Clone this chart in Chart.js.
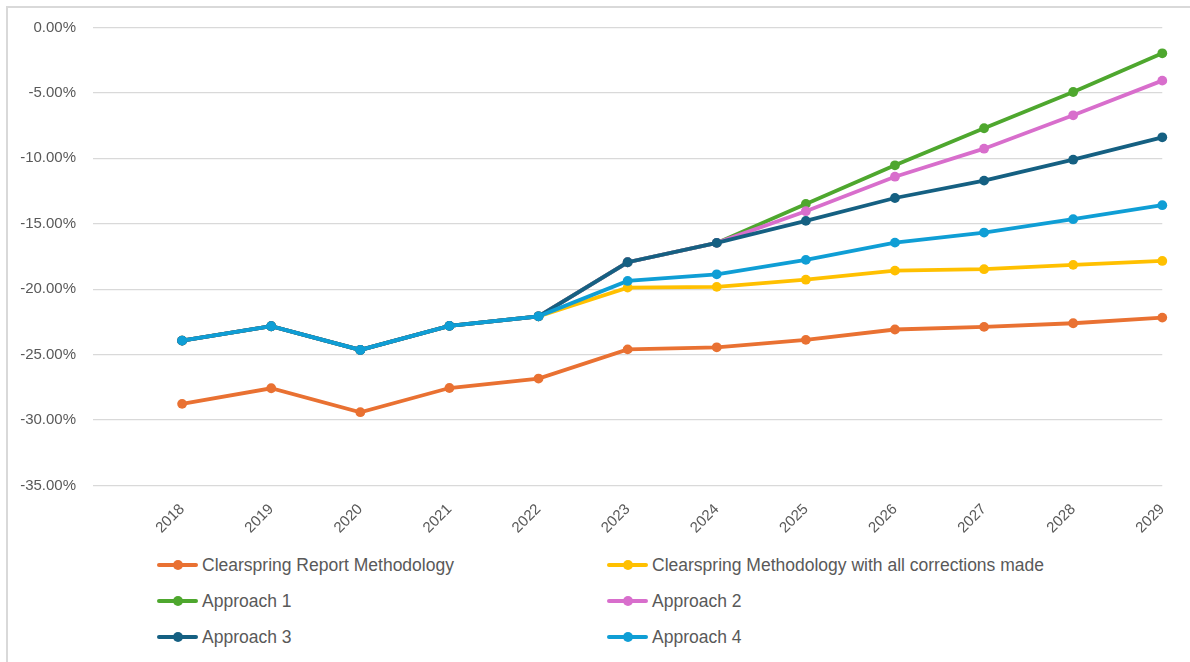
<!DOCTYPE html>
<html>
<head>
<meta charset="utf-8">
<script src="https://cdn.jsdelivr.net/npm/chart.js@4.4.1/dist/chart.umd.min.js"></script>
<style>
  html, body { margin: 0; padding: 0; background: #fff; }
  body { width: 1190px; height: 662px; position: relative; overflow: hidden; }
  #frame { position: absolute; left: 6px; top: 6px; width: 1200px; height: 700px; border: 2px solid #d9d9d9; }
  #chart-box { position: absolute; left: 0; top: 0; width: 1190px; height: 545px; }
  #legend {
    position: absolute; left: 157px; top: 547px;
    display: grid; grid-template-columns: 450px 450px; grid-auto-rows: 36px;
    font-family: "Liberation Sans", Arial, sans-serif; font-size: 17.5px; color: #595959;
  }
  .item { display: flex; align-items: center; white-space: nowrap; }
  .mark { position: relative; width: 41px; height: 12px; margin-right: 4px; }
  .mark .ln { position: absolute; left: 0; right: 0; top: 4px; height: 4px; border-radius: 2px; }
  .mark .dot { position: absolute; left: 16px; top: 1px; width: 10px; height: 10px; border-radius: 50%; }
</style>
</head>
<body>
<div id="frame"></div>
<div id="chart-box"><canvas id="myChart"></canvas></div>
<div id="legend"></div>
<script>
// years on the x axis
const years = [2018, 2019, 2020, 2021, 2022, 2023, 2024, 2025, 2026, 2027, 2028, 2029];

// values in percent
const reportMethodology = [-28.76, -27.57, -29.40, -27.55, -26.83, -24.60, -24.44, -23.87, -23.08, -22.88, -22.60, -22.17];
const correctedMethodology = [-23.93, -22.83, -24.64, -22.80, -22.07, -19.88, -19.82, -19.27, -18.58, -18.47, -18.14, -17.84];
const approach1 = [-23.93, -22.83, -24.64, -22.80, -22.07, -17.94, -16.46, -13.48, -10.53, -7.70, -4.93, -1.97];
const approach2 = [-23.93, -22.83, -24.64, -22.80, -22.07, -17.94, -16.46, -14.04, -11.40, -9.26, -6.71, -4.06];
const approach3 = [-23.93, -22.83, -24.64, -22.80, -22.07, -17.94, -16.46, -14.78, -13.03, -11.70, -10.10, -8.39];
const approach4 = [-23.93, -22.83, -24.64, -22.80, -22.07, -19.37, -18.86, -17.76, -16.44, -15.67, -14.65, -13.58];

const seriesNames = [
  "Clearspring Report Methodology",
  "Clearspring Methodology with all corrections made",
  "Approach 1",
  "Approach 2",
  "Approach 3",
  "Approach 4"
];
const seriesValues = [reportMethodology, correctedMethodology, approach1, approach2, approach3, approach4];
const seriesColors = ["#E97132", "#FFC000", "#4EA72E", "#D86ECC", "#156082", "#0F9ED5"];

const gridColor = "#d9d9d9";
const textColor = "#595959";
const axisFont = { family: "'Liberation Sans', Arial, sans-serif", size: 15 };

// later series sit on top, like the spreadsheet draws them
const datasets = seriesValues.map((vals, i) => ({
  label: seriesNames[i],
  data: vals.map((v, j) => ({ x: years[j], y: v })),
  borderColor: seriesColors[i],
  backgroundColor: seriesColors[i],
  borderWidth: 3.8,
  pointRadius: 4.9,
  pointHoverRadius: 4.9,
  pointBorderWidth: 0,
  tension: 0,
  clip: false,
  order: seriesValues.length - i
}));

const ctx = document.querySelector("#myChart").getContext("2d");
new Chart(ctx, {
  type: "line",
  data: { datasets: datasets },
  options: {
    responsive: true,
    maintainAspectRatio: false,
    animation: false,
    layout: { padding: { top: 27.5, right: 27, left: 0, bottom: 0 } },
    plugins: {
      legend: { display: false },
      tooltip: { enabled: false }
    },
    scales: {
      x: {
        type: "linear",
        min: years[0] - 1,
        max: years[years.length - 1],
        grid: { display: false, drawTicks: false },
        border: { display: false },
        ticks: {
          stepSize: 1,
          autoSkip: false,
          minRotation: 45,
          maxRotation: 45,
          padding: 15,
          color: textColor,
          font: axisFont,
          callback: v => (v < years[0] ? "" : String(v))
        },
        afterFit: scale => { scale.height = 59.5; }
      },
      y: {
        min: -35,
        max: 0,
        grid: { color: gridColor, lineWidth: 1.3, drawTicks: false },
        border: { display: false },
        ticks: {
          stepSize: 5,
          padding: 17,
          color: textColor,
          font: axisFont,
          callback: v => v.toFixed(2) + "%"
        },
        afterFit: scale => { scale.width = 93; }
      }
    }
  }
});

// legend in two columns below the plot
const legend = document.querySelector("#legend");
seriesNames.forEach((name, i) => {
  const item = document.createElement("div");
  item.className = "item";
  item.innerHTML =
    '<span class="mark"><span class="ln" style="background:' + seriesColors[i] + '"></span>' +
    '<span class="dot" style="background:' + seriesColors[i] + '"></span></span>' +
    '<span>' + name + '</span>';
  legend.appendChild(item);
});
</script>
</body>
</html>
